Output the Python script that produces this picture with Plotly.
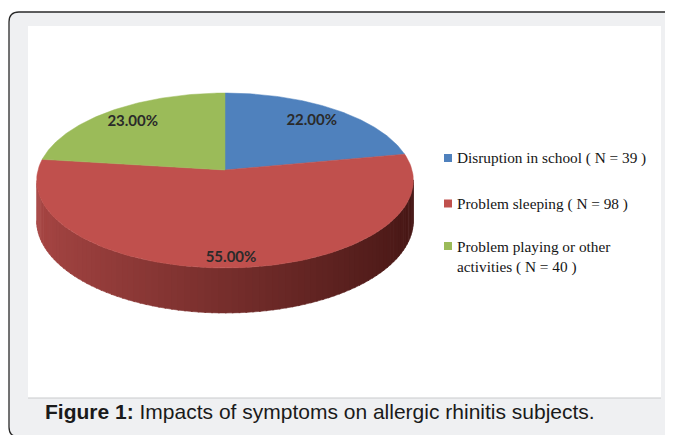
import numpy as np
import plotly.graph_objects as go

# ---- data ----
categories = ["Disruption in school", "Problem sleeping", "Problem playing or other activities"]
counts = [39, 98, 40]
percents = [22.0, 55.0, 23.0]
pct_labels = ["22.00%", "55.00%", "23.00%"]
legend_labels = ["Disruption in school ( N = 39 )", "Problem sleeping ( N = 98 )",
                 "Problem playing or other<br>activities ( N = 40 )"]
colors = ["#4f81bd", "#c0504d", "#9bbb59"]
caption_bold = "Figure 1:"
caption_text = " Impacts of symptoms on allergic rhinitis subjects."

# ---- geometry (pixel-like axis coordinates) ----
W, H = 673, 435
OFF = 8                 # page body margin compensation
cx, cy = 225.0, 170.0
A, B = 187.0, 86.2      # horizontal / vertical radii
P = 0.12                # perspective factor
DEPTH = 39.6
label_r = [0.78, 0.91, 0.80]


def proj(theta_deg, r=1.0, drop=0.0):
    t = np.radians(theta_deg)
    s = 1.0 / (1.0 + P * r * np.sin(t))
    x = cx + A * r * np.cos(t) * s
    y = cy - B * r * np.sin(t) * s + drop * s
    return x, y


fig = go.Figure()

# side of the cylinder (front half, shaded)
sil = np.degrees(np.arcsin(P))
t_start, t_end = 180 + sil, 360 - sil
n = 90
edges = np.linspace(t_start, t_end, n + 1)
c_left = np.array([0xa8, 0x46, 0x44])
c_right = np.array([0x46, 0x17, 0x15])
for i in range(n):
    ta = np.linspace(edges[i], edges[i + 1] + 0.4, 4)
    xt, yt = proj(ta)
    xb, yb = proj(ta[::-1], drop=DEPTH)
    xm = np.cos(np.radians((edges[i] + edges[i + 1]) / 2))
    f = (xm + 1) / 2
    c = (c_left * (1 - f) + c_right * f).astype(int)
    col = "rgb(%d,%d,%d)" % tuple(c)
    fig.add_trace(go.Scatter(x=list(xt) + list(xb), y=list(yt) + list(yb), fill="toself",
                             mode="lines", line=dict(width=0.6, color=col), fillcolor=col,
                             hoverinfo="skip", showlegend=False))

# top face slices (clockwise from 12 o'clock)
start = 90.0
for i, p in enumerate(percents):
    sweep = p / 100.0 * 360.0
    ts = np.linspace(start, start - sweep, 120)
    xs, ys = proj(ts)
    fig.add_trace(go.Scatter(x=[cx] + list(xs) + [cx], y=[cy] + list(ys) + [cy], fill="toself",
                             mode="lines", line=dict(width=0.5, color=colors[i]),
                             fillcolor=colors[i], hoverinfo="skip", showlegend=False))
    mid = start - sweep / 2
    lx, ly = proj(mid, r=label_r[i])
    fig.add_trace(go.Scatter(x=[lx], y=[ly], mode="text", text=["<b>" + pct_labels[i] + "</b>"],
                             textfont=dict(family="Lato", size=15, color="#2a2a2a"),
                             textposition="middle center", hoverinfo="skip", showlegend=False))
    start -= sweep

# legend
leg_y = [158, 203.5, 246]
for i in range(3):
    fig.add_trace(go.Scatter(x=[448], y=[leg_y[i]], mode="markers",
                             marker=dict(symbol="square", size=8, color=colors[i]),
                             hoverinfo="skip", showlegend=False))
    fig.add_annotation(x=455, y=leg_y[i], xref="x", yref="y", text=legend_labels[i],
                       showarrow=False, xanchor="left", yanchor="top" if i == 2 else "middle",
                       yshift=10 if i == 2 else 0, align="left",
                       font=dict(family="Liberation Serif", size=15.3, color="#151515"))

# caption
fig.add_annotation(x=43, y=411, xref="x", yref="y",
                   text="<b>" + caption_bold + "</b>" + caption_text,
                   showarrow=False, xanchor="left", yanchor="middle",
                   font=dict(family="Liberation Sans", size=21, color="#1a1a1a"))

# frame shapes
r = 10
x0, x1, y0, y1 = 9, 674, 12, 437
path = (f"M{x0 + r},{y0} L{x1 - r},{y0} Q{x1},{y0} {x1},{y0 + r} L{x1},{y1 - r} "
        f"Q{x1},{y1} {x1 - r},{y1} L{x0 + r},{y1} Q{x0},{y1} {x0},{y1 - r} "
        f"L{x0},{y0 + r} Q{x0},{y0} {x0 + r},{y0} Z")
fig.add_shape(type="path", path=path, xref="x", yref="y", layer="below",
              fillcolor="#eff0f2", line=dict(color="#2a2a2a", width=1.3))
fig.add_shape(type="rect", x0=28, x1=661, y0=26, y1=398, xref="x", yref="y", layer="below",
              fillcolor="#ffffff", line=dict(width=0))
fig.add_shape(type="line", x0=28, x1=661, y0=398, y1=398, xref="x", yref="y", layer="below",
              line=dict(color="#c9cacc", width=1))

fig.update_layout(width=W, height=H, margin=dict(l=0, r=0, t=0, b=0),
                  paper_bgcolor="white", plot_bgcolor="white",
                  xaxis=dict(range=[OFF, W + OFF], visible=False, fixedrange=True),
                  yaxis=dict(range=[H + OFF, OFF], visible=False, fixedrange=True),
                  showlegend=False)

fig.write_html("out.html")
